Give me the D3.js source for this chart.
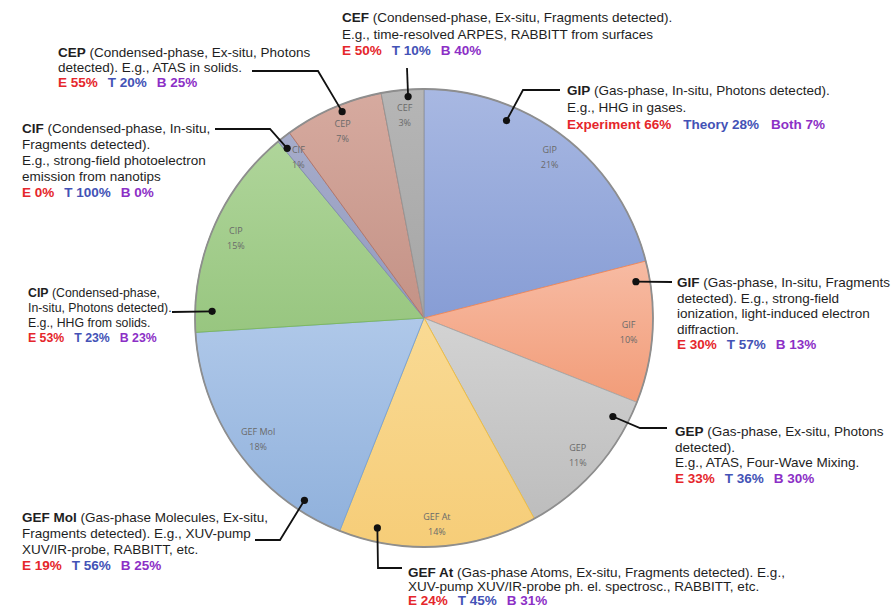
<!DOCTYPE html>
<html><head><meta charset="utf-8">
<script src="https://cdn.jsdelivr.net/npm/d3@7"></script>
<style>body{margin:0;background:#fff}svg{display:block}</style></head>
<body>
<svg id="c" width="893" height="608"></svg>
<script>
// ---- data ----
const categories = ["GIP", "GIF", "GEP", "GEF At", "GEF Mol", "CIP", "CIF", "CEP", "CEF"];
const shares = [21, 10, 11, 14, 18, 15, 1, 7, 3];
const headings = ["GIP", "GIF", "GEP", "GEF At", "GEF Mol", "CIP", "CIF", "CEP", "CEF"];
const descriptions = [
  ["(Gas-phase, In-situ, Photons detected).", "E.g., HHG in gases."],
  ["(Gas-phase, In-situ, Fragments", "detected). E.g., strong-field", "ionization, light-induced electron", "diffraction."],
  ["(Gas-phase, Ex-situ, Photons", "detected).", "E.g., ATAS, Four-Wave Mixing."],
  ["(Gas-phase Atoms, Ex-situ, Fragments detected). E.g.,", "XUV-pump XUV/IR-probe ph. el. spectrosc., RABBITT, etc."],
  ["(Gas-phase Molecules, Ex-situ,", "Fragments detected). E.g., XUV-pump", "XUV/IR-probe, RABBITT, etc."],
  ["(Condensed-phase,", "In-situ, Photons detected).", "E.g., HHG from solids."],
  ["(Condensed-phase, In-situ,", "Fragments detected).", "E.g., strong-field photoelectron", "emission from nanotips"],
  ["(Condensed-phase, Ex-situ, Photons", "detected). E.g., ATAS in solids."],
  ["(Condensed-phase, Ex-situ, Fragments detected).", "E.g., time-resolved ARPES, RABBITT from surfaces"]
];
const experimentShare = [66, 30, 33, 24, 19, 53, 0, 55, 50];
const theoryShare = [28, 57, 36, 45, 56, 23, 100, 20, 10];
const bothShare = [7, 13, 30, 31, 25, 23, 0, 25, 40];
const breakdownNames = [["Experiment", "Theory", "Both"], ["E", "T", "B"]];

// ---- styles / layout ----
const fillTop = ["#a8b8e2", "#f7bba3", "#d3d3d3", "#f9da94", "#afc8e9", "#afd59a", "#a6acca", "#d6aa9f", "#b6b6b6"];
const fillBot = ["#879dd5", "#f29c78", "#bdbdbd", "#f6cd78", "#90b1dc", "#98c680", "#939bbf", "#c49286", "#a5a5a5"];
const strokeCol = ["#7d94cf", "#ee8a5e", "#a8a8a8", "#efbf45", "#7aa3d6", "#7eb862", "#858db5", "#b4786a", "#969696"];
const breakdownColors = ["#e5262b", "#4352b6", "#8c2fc6"];

const cx = 424, cy = 318, R = 229, labelR = 205;
// callout layout: dot position within slice (t = fraction of slice angle, r = radius), path points, text anchor
const callouts = [
  {t: 0.30, r: 214, pts: [[523, 90], [560, 90]], tx: 567, ty: 95, lh: 16.5, fs: 13.5, gap: 12, long: true},
  {t: 0.13, r: 215, pts: [[672, 282]], tx: 677, ty: 287, lh: 15.6, fs: 13.5, gap: 10},
  {t: 0.15, r: 213, pts: [[640, 428], [667, 428]], tx: 675, ty: 436, lh: 15.5, fs: 13.5, gap: 10},
  {t: 0.82, r: 215, pts: [[378, 568], [402, 568]], tx: 408, ty: 577, lh: 14, fs: 13.5, gap: 10},
  {t: 0.18, r: 218, pts: [[280, 540], [255, 540]], tx: 22, ty: 522, lh: 16, fs: 13.5, gap: 10},
  {t: 0.10, r: 212, pts: [[172, 312]], tx: 28, ty: 296.5, lh: 15, fs: 12.3, gap: 10},
  {t: 0.20, r: 218, pts: [[270, 129], [215, 129]], tx: 22, ty: 133, lh: 16, fs: 13.5, gap: 10},
  {t: 0.57, r: 222, pts: [[318, 71], [252, 71]], tx: 58, ty: 57, lh: 15, fs: 13.5, gap: 10},
  {t: 0.62, r: 222, pts: [[407, 68]], tx: 342, ty: 22, lh: 16.5, fs: 13.5, gap: 10}
];

const svg = d3.select("#c");
const defs = svg.append("defs");
categories.forEach((c, i) => {
  const g = defs.append("linearGradient").attr("id", "g" + i)
    .attr("x1", 0).attr("y1", 0).attr("x2", 0).attr("y2", 1);
  g.append("stop").attr("offset", "0%").attr("stop-color", fillTop[i]);
  g.append("stop").attr("offset", "100%").attr("stop-color", fillBot[i]);
});

const pie = d3.pie().sort(null).value(d => d.v);
const data = categories.map((c, i) => ({c, v: shares[i], i}));
const arcs = pie(data);
const arc = d3.arc().innerRadius(0).outerRadius(R);
const labelArc = d3.arc().innerRadius(labelR).outerRadius(labelR);

const gp = svg.append("g").attr("transform", `translate(${cx},${cy})`);
gp.selectAll("path.slice").data(arcs).join("path").attr("class", "slice")
  .attr("d", arc)
  .attr("fill", d => `url(#g${d.data.i})`)
  .attr("stroke", d => strokeCol[d.data.i])
  .attr("stroke-width", 1);
gp.append("circle").attr("r", R).attr("fill", "none").attr("stroke", "#8e8e8e").attr("stroke-width", 1.8);

// in-slice labels
const lab = gp.selectAll("text.sl").data(arcs).join("text").attr("class", "sl")
  .attr("transform", d => `translate(${labelArc.centroid(d)})`)
  .attr("text-anchor", "middle")
  .style("font-family", "'Open Sans', 'Liberation Sans', sans-serif")
  .style("font-size", "9px").attr("fill", "#6a6a6a");
lab.append("tspan").attr("x", 0).attr("y", -3).text(d => d.data.c);
lab.append("tspan").attr("x", 0).attr("y", 12).text(d => d.data.v + "%");

// callouts
const font = "'Liberation Sans', Arial, sans-serif";
arcs.forEach((a, k) => {
  const i = a.data.i, L = callouts[i];
  const ang = a.startAngle + (a.endAngle - a.startAngle) * L.t;
  const dx = cx + L.r * Math.sin(ang), dy = cy - L.r * Math.cos(ang);
  const pts = [[dx, dy]].concat(L.pts);
  svg.append("path").attr("d", d3.line()(pts)).attr("fill", "none")
    .attr("stroke", "#111").attr("stroke-width", 1.8);
  svg.append("circle").attr("cx", dx).attr("cy", dy).attr("r", 3.6).attr("fill", "#111");

  const t = svg.append("text").style("font-family", font).style("font-size", L.fs + "px").attr("fill", "#1e1e1e");
  descriptions[i].forEach((line, j) => {
    const ts = t.append("tspan").attr("x", L.tx).attr("y", L.ty + j * L.lh);
    if (j === 0) {
      ts.append("tspan").style("font-weight", "bold").text(headings[i]);
      ts.append("tspan").text(" " + line);
    } else ts.text(line);
  });
  const by = L.ty + descriptions[i].length * L.lh + (L.long ? 0.5 : 0);
  const names = L.long ? breakdownNames[0] : breakdownNames[1];
  const vals = [experimentShare[i], theoryShare[i], bothShare[i]];
  let x = L.tx;
  vals.forEach((v, m) => {
    const tt = svg.append("text").attr("x", x).attr("y", by)
      .style("font-family", font).style("font-size", L.fs + "px").style("font-weight", "bold")
      .attr("fill", breakdownColors[m]).text(names[m] + " " + v + "%");
    x += tt.node().getComputedTextLength() + L.gap;
  });
});
</script>
</body></html>
